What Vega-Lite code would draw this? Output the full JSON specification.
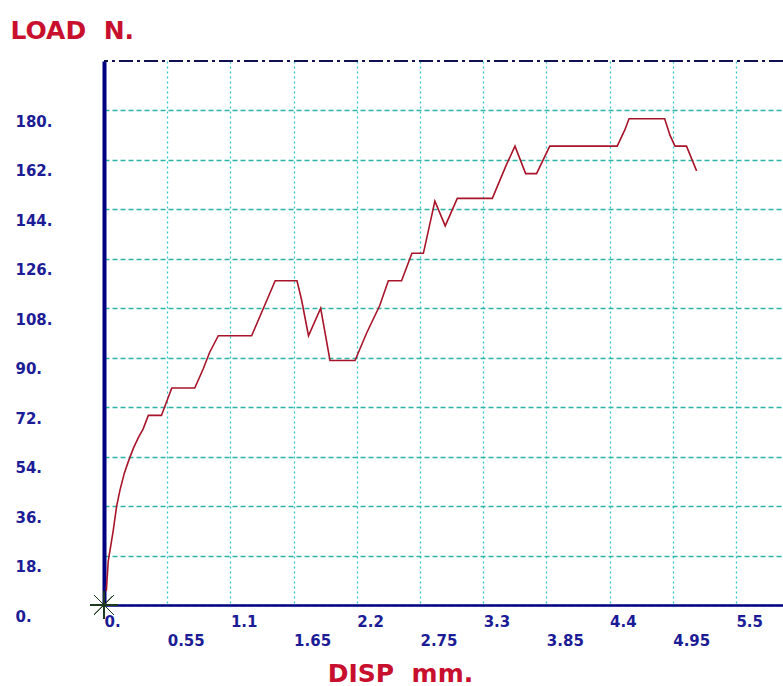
{
  "$schema": "https://vega.github.io/schema/vega-lite/v6.json",
  "width": 679,
  "height": 544,
  "autosize": {"type": "none"},
  "padding": {"left": 104, "top": 61, "right": 0, "bottom": 81},
  "background": "white",
  "config": {"view": {"stroke": null}},
  "data": {"values": [
    {"disp": 0.02, "load": 5},
    {"disp": 0.037, "load": 16},
    {"disp": 0.08, "load": 27},
    {"disp": 0.11, "load": 36},
    {"disp": 0.14, "load": 42},
    {"disp": 0.177, "load": 48},
    {"disp": 0.21, "load": 52},
    {"disp": 0.255, "load": 57},
    {"disp": 0.30, "load": 61},
    {"disp": 0.34, "load": 64},
    {"disp": 0.386, "load": 69},
    {"disp": 0.50, "load": 69},
    {"disp": 0.59, "load": 79},
    {"disp": 0.79, "load": 79},
    {"disp": 0.864, "load": 86},
    {"disp": 0.92, "load": 92},
    {"disp": 0.995, "load": 98},
    {"disp": 1.285, "load": 98},
    {"disp": 1.49, "load": 118},
    {"disp": 1.68, "load": 118},
    {"disp": 1.72, "load": 111},
    {"disp": 1.78, "load": 98},
    {"disp": 1.886, "load": 108},
    {"disp": 1.967, "load": 89},
    {"disp": 2.185, "load": 89},
    {"disp": 2.286, "load": 99},
    {"disp": 2.40, "load": 109},
    {"disp": 2.475, "load": 118},
    {"disp": 2.59, "load": 118},
    {"disp": 2.68, "load": 128},
    {"disp": 2.78, "load": 128},
    {"disp": 2.88, "load": 147},
    {"disp": 2.97, "load": 138},
    {"disp": 3.075, "load": 148},
    {"disp": 3.38, "load": 148},
    {"disp": 3.50, "load": 160},
    {"disp": 3.577, "load": 167},
    {"disp": 3.67, "load": 157},
    {"disp": 3.765, "load": 157},
    {"disp": 3.88, "load": 167},
    {"disp": 4.467, "load": 167},
    {"disp": 4.534, "load": 173},
    {"disp": 4.57, "load": 177},
    {"disp": 4.88, "load": 177},
    {"disp": 4.926, "load": 171},
    {"disp": 4.97, "load": 167},
    {"disp": 5.07, "load": 167},
    {"disp": 5.158, "load": 158}
  ]},
  "layer": [
    {
      "mark": {"type": "line", "color": "#a8142a", "strokeWidth": 1.6},
      "encoding": {
        "x": {
          "field": "disp", "type": "quantitative",
          "scale": {"domain": [0, 5.91], "nice": false, "zero": false},
          "axis": {
            "values": [0, 0.55, 1.1, 1.65, 2.2, 2.75, 3.3, 3.85, 4.4, 4.95, 5.5],
            "format": ".2~f",
            "labelExpr": "round(datum.value/0.55)%2==0 ? [datum.value==0 ? '0.' : datum.label, ''] : ['', datum.label]",
            "labelAlign": "left",
            "labelBaseline": "top",
            "labelPadding": 9,
            "labelLineHeight": 19,
            "labelFont": "DejaVu Sans",
            "labelFontWeight": "bold",
            "labelFontSize": 15,
            "labelColor": "#1c1c96",
            "labelOverlap": false,
            "labelFlush": false,
            "ticks": false,
            "domainColor": "#000080",
            "domainWidth": 2.5,
            "grid": true,
            "gridColor": "#33c4cc",
            "gridDash": [2, 3],
            "gridWidth": 1.3,
            "title": "DISP\u00a0\u00a0mm.",
            "titleFont": "DejaVu Sans",
            "titleFontSize": 25,
            "titleFontWeight": "bold",
            "titleColor": "#c8102e",
            "titleX": 296,
            "titleY": 68,
            "titleAlign": "center",
            "titleBaseline": "middle"
          }
        },
        "y": {
          "field": "load", "type": "quantitative",
          "scale": {"domain": [0, 198], "nice": false},
          "axis": {
            "values": [0, 18, 36, 54, 72, 90, 108, 126, 144, 162, 180],
            "labelExpr": "datum.value + '.'",
            "labelAlign": "left",
            "labelBaseline": "middle",
            "labelPadding": 89,
            "labelOffset": 11,
            "labelFont": "DejaVu Sans",
            "labelFontWeight": "bold",
            "labelFontSize": 15,
            "labelColor": "#1c1c96",
            "ticks": false,
            "domainColor": "#000080",
            "domainWidth": 4,
            "grid": true,
            "gridColor": "#2fb4a4",
            "gridDash": [5, 3],
            "gridWidth": 1.3,
            "title": "LOAD\u00a0\u00a0N.",
            "titleFont": "DejaVu Sans",
            "titleFontSize": 25,
            "titleFontWeight": "bold",
            "titleColor": "#c8102e",
            "titleAngle": 0,
            "titleAlign": "left",
            "titleBaseline": "middle",
            "titleX": -94,
            "titleY": -31
          }
        }
      }
    },
    {
      "mark": {"type": "rule", "color": "#101050", "strokeWidth": 2, "strokeDash": [14, 4, 3, 4]},
      "encoding": {"y": {"datum": 198, "type": "quantitative"}}
    },
    {
      "mark": {"type": "point", "shape": "M-1,0L1,0M0,-1L0,1M-0.7,-0.7L0.7,0.7M-0.7,0.7L0.7,-0.7", "size": 700, "filled": false, "color": "#1e3a1e", "strokeWidth": 1, "opacity": 1},
      "encoding": {
        "x": {"datum": 0, "type": "quantitative"},
        "y": {"datum": 0, "type": "quantitative"}
      }
    }
  ]
}
